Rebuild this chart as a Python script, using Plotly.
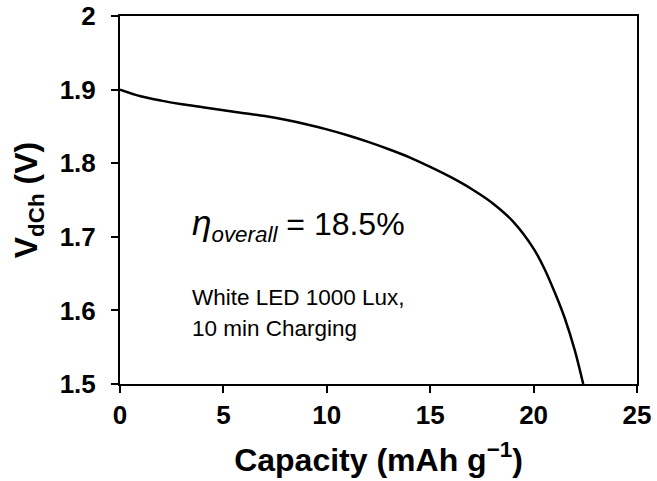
import plotly.graph_objects as go

capacity = [0, 1, 2, 3, 4, 5, 6, 7, 8, 9, 10, 11, 12, 13, 14, 15, 16, 17, 18, 19,
            20, 20.5, 21, 21.5, 22, 22.4]
voltage = [1.900, 1.891, 1.885, 1.880, 1.876, 1.872, 1.868, 1.864, 1.859, 1.853, 1.846,
           1.838, 1.829, 1.819, 1.808, 1.795, 1.781, 1.765, 1.746, 1.721,
           1.684, 1.658, 1.626, 1.590, 1.545, 1.500]

x_ticks = [0, 5, 10, 15, 20, 25]
x_ticktext = ["0", "5", "10", "15", "20", "25"]
y_ticks = [1.5, 1.6, 1.7, 1.8, 1.9, 2.0]
y_ticktext = ["1.5", "1.6", "1.7", "1.8", "1.9", "2"]

font_family = "Liberation Sans, Arial, sans-serif"

fig = go.Figure()
fig.add_trace(go.Scatter(x=capacity, y=voltage, mode="lines",
                         line=dict(color="black", width=2.5, shape="spline", smoothing=0.8),
                         showlegend=False, hoverinfo="skip"))

axis_common = dict(showline=True, linecolor="black", linewidth=2, mirror=True, ticks="outside",
                   ticklen=7, tickwidth=2, tickcolor="black", showgrid=False, zeroline=False,
                   automargin=False,
                   tickfont=dict(family=font_family, size=26, color="black", weight="bold"))

fig.update_xaxes(range=[0, 25], tickvals=x_ticks, ticktext=x_ticktext,
                 title=dict(text="<b>Capacity (mAh g<sup>−1</sup>)</b>",
                            font=dict(family=font_family, size=32, color="black"), standoff=19),
                 ticklabelstandoff=0, **axis_common)
fig.update_yaxes(range=[1.5, 2.0], tickvals=y_ticks, ticktext=y_ticktext,
                 title=dict(text="<b>V<sub>dCh</sub> (V)</b>",
                            font=dict(family=font_family, size=32, color="black"), standoff=12),
                 ticklabelstandoff=10, **axis_common)

fig.add_annotation(x=3.4, y=1.716, xref="x", yref="y", xanchor="left", yanchor="middle", showarrow=False,
                   text="<i><span style='font-size:35px'>η</span><sub>overall</sub></i> = 18.5%",
                   font=dict(family=font_family, size=32, color="black"))
fig.add_annotation(x=3.4, y=1.618, xref="x", yref="y", xanchor="left", yanchor="middle", showarrow=False,
                   text="White LED 1000 Lux,", font=dict(family=font_family, size=22.5, color="black"))
fig.add_annotation(x=3.4, y=1.576, xref="x", yref="y", xanchor="left", yanchor="middle", showarrow=False,
                   text="10 min Charging", font=dict(family=font_family, size=22.5, color="black"))

fig.update_layout(width=657, height=481, margin=dict(l=120, r=20, t=16, b=97),
                  plot_bgcolor="white", paper_bgcolor="white",
                  font=dict(family=font_family, color="black"))

fig.write_html("out.html", config={"displayModeBar": False},
               post_script="document.body.style.margin='0';")
